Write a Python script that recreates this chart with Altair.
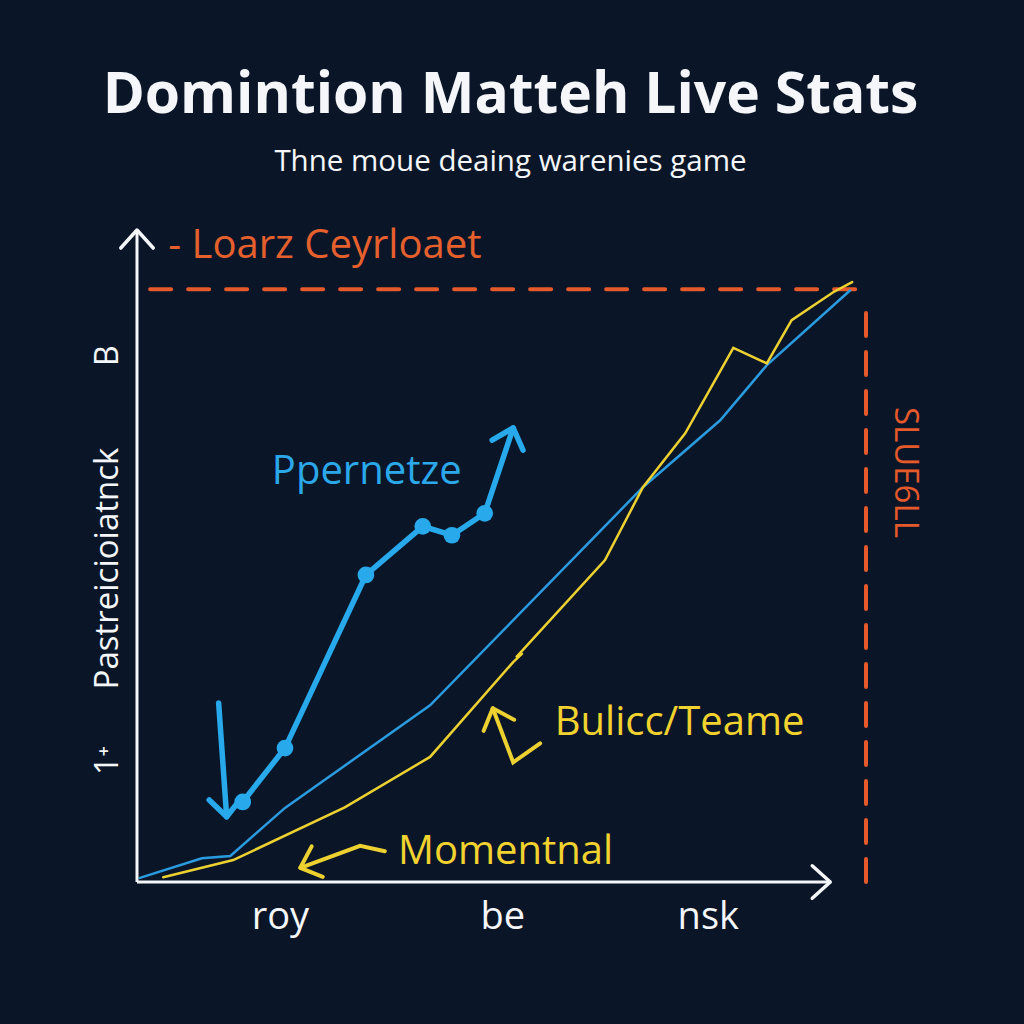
import altair as alt
import pandas as pd

# ---------------- data ----------------
# Bright blue "Ppernetze" series (thick, with markers)
pper_x = [14.5, 20.3, 31.4, 39.2, 43.2, 47.7]
pper_y = [13.5, 22.6, 51.8, 60.0, 58.5, 62.2]
pper_arrow_x = [47.7, 51.6]
pper_arrow_y = [62.2, 76.6]

# Thin blue trend series
trend_x = [0.4, 8.9, 12.8, 20.3, 40.2, 69.4, 80.0, 86.4, 97.8]
trend_y = [0.7, 4.0, 4.4, 12.5, 29.8, 66.6, 77.9, 87.2, 99.8]

# Yellow "Momentnal" series
moment_x = [3.6, 13.2, 28.5, 40.2, 51.6, 52.9, 52.0, 64.2, 69.4, 75.2, 81.8, 86.4, 89.8, 95.5, 98.1]
moment_y = [0.8, 3.7, 12.6, 21.1, 37.1, 38.6, 37.9, 54.3, 66.6, 75.7, 90.1, 87.5, 94.8, 99.5, 101.2]

# Reference (orange dashed) level
ref_level = 100.0
ref_x_end = 100.0

# Axis tick labels
x_tick_values = [19.6, 50.1, 78.3]
x_tick_labels = ["roy", "be", "nsk"]
y_tick_values = [20.6, 88.9]
y_tick_labels = ["1\u207a", "B"]
y_title = "Pastreicioiatnck"

# Annotation pointer arrows (polylines) and their heads
blue_pointer_x = [11.2, 12.3]
blue_pointer_y = [30.2, 11.0]
bulicc_pointer_x = [55.3, 51.6, 48.8]
bulicc_pointer_y = [23.4, 20.2, 29.3]
moment_pointer_x = [34.0, 30.6, 22.4]
moment_pointer_y = [5.2, 6.1, 2.4]

# Annotation texts
ann_text = ["Ppernetze", "Bulicc/Teame", "Momentnal", "- Loarz Ceyrloaet"]
ann_x = [18.5, 57.3, 35.8, 4.3]
ann_y = [69.1, 26.8, 5.1, 107.3]
ann_color = ["#2aa8ea", "#f2d22e", "#f2d22e", "#e5602c"]

side_text = "SLUE6LL"
side_x = 105.3
side_y = 69.1

# ---------------- colours ----------------
BG = "#0a1628"
BLUE = "#27a9ec"
BLUE2 = "#2b9be0"
YELLOW = "#ecd131"
ORANGE = "#e5592a"
WHITE = "#f4f6f9"

XD = [0, 100]
YD = [0, 110]
xs = alt.Scale(domain=XD, nice=False, zero=False)
ys = alt.Scale(domain=YD, nice=False, zero=False)

def poly(xv, yv):
    return pd.DataFrame({"x": xv, "y": yv, "i": list(range(len(xv)))})

# base layer holding the axes
axis_df = pd.DataFrame({"x": [0.0], "y": [0.0]})
lbl_expr_x = " : ".join(
    [f"abs(datum.value - {v}) < 1 ? '{t}'" for v, t in zip(x_tick_values, x_tick_labels)]
) + " : ''"
lbl_expr_y = " : ".join(
    [f"abs(datum.value - {v}) < 1 ? '{t}'" for v, t in zip(y_tick_values, y_tick_labels)]
) + " : ''"

base = alt.Chart(axis_df).mark_point(opacity=0).encode(
    x=alt.X("x:Q", scale=xs, axis=alt.Axis(
        values=x_tick_values, labelExpr=lbl_expr_x, domain=False, ticks=False, grid=False,
        labelFontSize=38, labelColor=WHITE, labelPadding=35, labelFont="Open Sans",
        labelBaseline="middle", title=None)),
    y=alt.Y("y:Q", scale=ys, axis=alt.Axis(
        values=y_tick_values, labelExpr=lbl_expr_y, domain=False, ticks=False, grid=False,
        labelFontSize=32, labelColor=WHITE, labelAngle=-90, labelAlign="center",
        labelBaseline="middle", labelPadding=30, labelFont="Open Sans",
        title=y_title, titleFontSize=33, titleColor=WHITE, titleFont="Open Sans",
        titleFontWeight="normal", titleAngle=-90, titleX=-30, titleY=338,
        titleAlign="center", titleBaseline="middle")),
)

# axes arrows (white)
yaxis_line = alt.Chart(pd.DataFrame({"x": [0.0], "y": [0.0], "y2": [110.0]})).mark_rule(
    color=WHITE, strokeWidth=3).encode(x=alt.X("x:Q", scale=xs), y=alt.Y("y:Q", scale=ys), y2="y2:Q")
xaxis_line = alt.Chart(pd.DataFrame({"x": [0.0], "x2": [95.1], "y": [0.0]})).mark_rule(
    color=WHITE, strokeWidth=3).encode(x=alt.X("x:Q", scale=xs), x2="x2:Q", y=alt.Y("y:Q", scale=ys))

CHEVRON = "M-0.9,1L0,0L0.9,1"
heads_df = pd.DataFrame({
    "x": [0.0, 95.1, pper_arrow_x[-1], blue_pointer_x[-1], bulicc_pointer_x[-1], moment_pointer_x[-1]],
    "y": [110.0, 0.0, pper_arrow_y[-1], blue_pointer_y[-1], bulicc_pointer_y[-1], moment_pointer_y[-1]],
    "angle": [0, 90, 18, 176, 340, 250],
    "c": [WHITE, WHITE, BLUE, BLUE, YELLOW, YELLOW],
    "w": [3.5, 3.5, 5.5, 5.5, 4, 4],
})
heads = alt.Chart(heads_df).mark_point(shape=CHEVRON, filled=False, size=1300, strokeCap="round",
                                       strokeJoin="round", opacity=1).encode(
    x=alt.X("x:Q", scale=xs), y=alt.Y("y:Q", scale=ys),
    angle=alt.Angle("angle:Q", scale=None),
    color=alt.Color("c:N", scale=None),
    strokeWidth=alt.StrokeWidth("w:Q", scale=None),
)

# orange dashed reference lines
href = alt.Chart(pd.DataFrame({"x": [1.8], "x2": [99.0], "y": [ref_level]})).mark_rule(
    color=ORANGE, strokeWidth=4, strokeDash=[21, 17], strokeCap="round").encode(
    x=alt.X("x:Q", scale=xs), x2="x2:Q", y=alt.Y("y:Q", scale=ys))
vref = alt.Chart(pd.DataFrame({"x": [ref_x_end], "y": [0.0], "y2": [98.0]})).mark_rule(
    color=ORANGE, strokeWidth=4, strokeDash=[23, 16], strokeCap="round").encode(
    x=alt.X("x:Q", scale=xs), y=alt.Y("y:Q", scale=ys), y2="y2:Q")

def line(df, color, width):
    return alt.Chart(df).mark_line(color=color, strokeWidth=width, strokeJoin="miter",
                                   strokeCap="round").encode(
        x=alt.X("x:Q", scale=xs), y=alt.Y("y:Q", scale=ys), order="i:Q")

trend_line = line(poly(trend_x, trend_y), BLUE2, 2.5)
moment_line = line(poly(moment_x, moment_y), YELLOW, 2.5)
pper_line = line(poly(pper_x + pper_arrow_x[1:], pper_y + pper_arrow_y[1:]), BLUE, 5.5)
pper_pts = alt.Chart(poly(pper_x, pper_y)).mark_point(filled=True, size=280, color=BLUE, opacity=1).encode(
    x=alt.X("x:Q", scale=xs), y=alt.Y("y:Q", scale=ys))

blue_ptr = line(poly(blue_pointer_x, blue_pointer_y), BLUE, 5.5)
bulicc_ptr = line(poly(bulicc_pointer_x, bulicc_pointer_y), YELLOW, 4)
moment_ptr = line(poly(moment_pointer_x, moment_pointer_y), YELLOW, 4)

ann_df = pd.DataFrame({"t": ann_text, "x": ann_x, "y": ann_y, "c": ann_color})
ann = alt.Chart(ann_df).mark_text(align="left", baseline="middle", fontSize=40,
                                  font="Open Sans").encode(
    x=alt.X("x:Q", scale=xs), y=alt.Y("y:Q", scale=ys), text="t:N",
    color=alt.Color("c:N", scale=None))

side = alt.Chart(pd.DataFrame({"t": [side_text], "x": [side_x], "y": [side_y]})).mark_text(
    align="center", baseline="middle", fontSize=33, font="Open Sans", angle=90, color=ORANGE).encode(
    x=alt.X("x:Q", scale=xs), y=alt.Y("y:Q", scale=ys), text="t:N")

chart = alt.layer(
    base, href, vref, trend_line, moment_line, pper_line, pper_pts,
    blue_ptr, bulicc_ptr, moment_ptr, yaxis_line, xaxis_line, heads, ann, side,
).properties(
    width=729, height=652,
    title=alt.Title(
        text="Domintion Matteh Live Stats",
        subtitle="Thne moue deaing warenies game",
        anchor="middle", dx=9, offset=49,
        font="Open Sans", fontSize=57, fontWeight="bold", color=WHITE,
        subtitleFont="Open Sans", subtitleFontSize=29.5, subtitleColor=WHITE,
        subtitlePadding=23,
    ),
    autosize=alt.AutoSizeParams(type="none"),
    padding={"left": 137, "top": 230, "right": 158, "bottom": 142},
    background=BG,
).configure_view(stroke=None)

chart.save("out.html", embed_options={"renderer": "svg", "actions": False})
